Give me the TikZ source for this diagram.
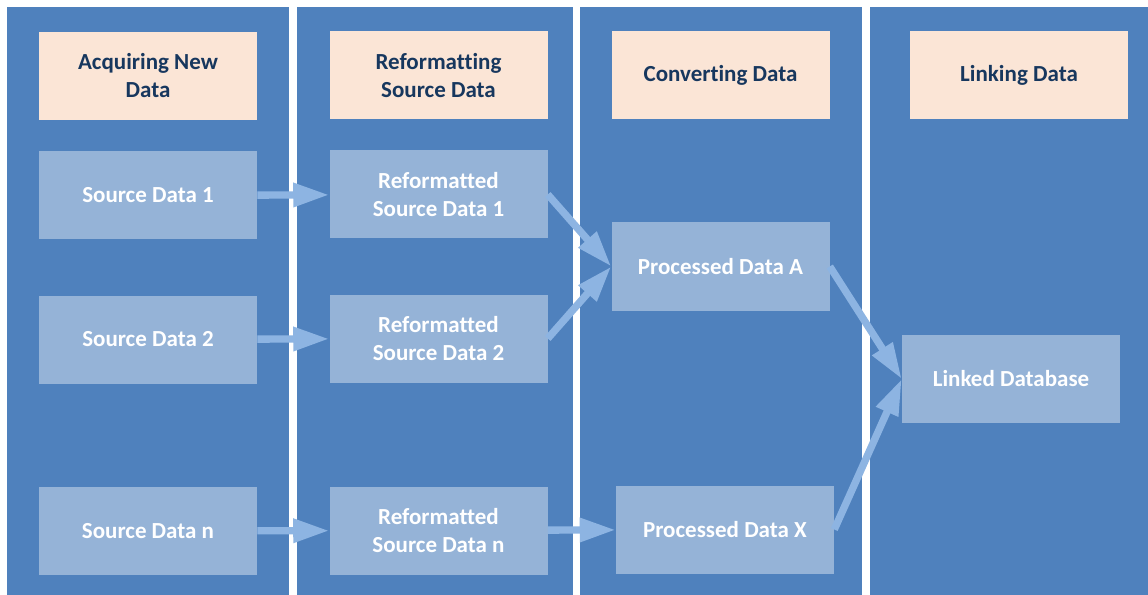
\documentclass[tikz,border=0pt]{standalone}
\usepackage{fontspec}
\setmainfont{Carlito}[Ligatures=NoCommon]
\usetikzlibrary{arrows.meta}
\definecolor{lanblue}{RGB}{79,129,189}
\definecolor{boxblue}{RGB}{149,179,215}
\definecolor{headpeach}{RGB}{251,229,214}
\definecolor{headtext}{RGB}{23,55,94}
\definecolor{flowblue}{RGB}{141,180,226}
\newcommand{\widthbox}{163.5pt}
\newcommand{\heightbox}{66pt}
\tikzset{
    common/.style={rectangle, minimum width=\widthbox, minimum height=\heightbox, align=center, inner sep=2pt,
        font=\fontsize{17.25}{21}\selectfont\bfseries},
    header/.style={common, fill=headpeach, text=headtext},
    stage/.style={common, fill=boxblue, text=white},
    lane/.style={fill=lanblue},
    flow/.style={draw=flowblue, line width=5.5pt, -{Triangle[length=27pt, width=17pt]}}
}
\begin{document}
\begin{tikzpicture}[x=0.75pt, y=-0.75pt]
            \useasboundingbox[fill=white] (0,0) rectangle (1148,595);
            \fill[lane] (7,7) rectangle (289,595);
            \fill[lane] (297,7) rectangle (573,595);
            \fill[lane] (580,7) rectangle (862,595);
            \fill[lane] (870,7) rectangle (1148,595);

            \node[header] (hAcq) at (148,76) {Acquiring New\\Data};
            \node[header] (hRef) at (438.5,75.5) {Reformatting\\Source Data};
            \node[header] (hConv) at (720.5,75.5) {Converting Data};
            \node[header] (hLink) at (1019,75.5) {Linking Data};

            \node[stage] (src1) at (148,195.5) {Source Data 1};
            \node[stage] (src2) at (148,339.5) {Source Data 2};
            \node[stage] (srcn) at (148,531) {Source Data n};

            \node[stage] (ref1) at (438.5,194.5) {Reformatted\\Source Data 1};
            \node[stage] (ref2) at (438.5,338.5) {Reformatted\\Source Data 2};
            \node[stage] (refn) at (438.5,530.5) {Reformatted\\Source Data n};

            \node[stage] (procA) at (720.5,266.5) {Processed Data A};
            \node[stage] (procX) at (725,529.5) {Processed Data X};

            \node[stage] (linked) at (1011,379) {Linked Database};

            \draw[flow] (src1) -- (ref1);
            \draw[flow] (src2) -- (ref2);
            \draw[flow] (srcn) -- (refn);
            \draw[flow] (ref1.east) -- (procA.west);
            \draw[flow] (ref2.east) -- (procA.west);
            \draw[flow] (refn) -- (procX);
            \draw[flow] (procA.east) -- (linked.west);
            \draw[flow] (procX.east) -- (linked.west);
        \end{tikzpicture}
\end{document}
